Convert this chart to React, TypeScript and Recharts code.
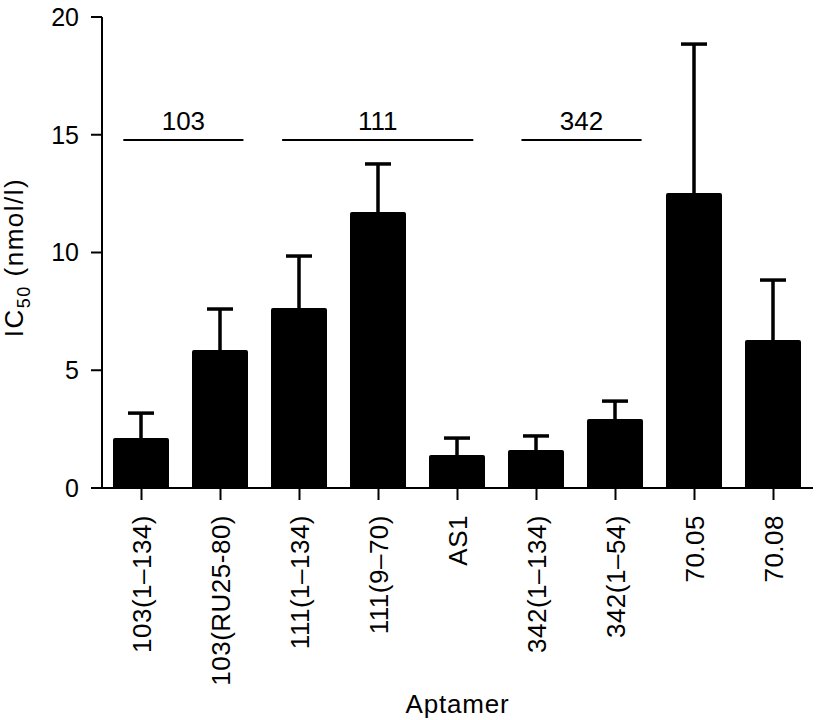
import React from 'react';
import {
  BarChart,
  Bar,
  XAxis,
  YAxis,
  ErrorBar,
  ReferenceLine,
} from 'recharts';

const aptamers = [
  '103(1–134)',
  '103(RU25-80)',
  '111(1–134)',
  '111(9–70)',
  'AS1',
  '342(1–134)',
  '342(1–54)',
  '70.05',
  '70.08',
];
const ic50 = [2.12, 5.86, 7.64, 11.72, 1.4, 1.61, 2.93, 12.53, 6.28];
const ic50Err = [1.06, 1.74, 2.21, 2.04, 0.72, 0.6, 0.76, 6.32, 2.55];
const yTicks = [0, 5, 10, 15, 20];

// bracket spans over groups, in category index units
const groupLabels = ['103', '111', '342'];
const groupStart = [-0.23, 1.78, 4.81];
const groupEnd = [1.29, 4.2, 6.33];
const groupLevel = 14.78;

// the lower half of each error bar sits inside the black bar
const data = aptamers.map((name, i) => ({
  idx: i,
  name,
  value: ic50[i],
  err: ic50Err[i],
}));

const FONT = 25;
const LABEL_FONT = 26;

function XTick(props: any) {
  const { x, y, payload } = props;
  return (
    <text
      transform={`translate(${x},${y + 13}) rotate(-90)`}
      textAnchor="end"
      dy="0.35em"
      fontSize={LABEL_FONT}
      letterSpacing={0.5}
      fill="#000"
    >
      {aptamers[payload.value]}
    </text>
  );
}

function YLabel(props: any) {
  const { viewBox } = props;
  const cy = viewBox.y + viewBox.height / 2 + 5;
  return (
    <text
      transform={`translate(23,${cy}) rotate(-90)`}
      textAnchor="middle"
      fontSize={LABEL_FONT}
      letterSpacing={1.5}
      fill="#000"
    >
      IC
      <tspan fontSize={18} dy={7}>50</tspan>
      <tspan dy={-7}> (nmol/l)</tspan>
    </text>
  );
}

function XLabel(props: any) {
  const { viewBox } = props;
  const cx = viewBox.x + viewBox.width / 2;
  return (
    <text x={cx} y={713} textAnchor="middle" fontSize={LABEL_FONT} letterSpacing={0.8} fill="#000">
      Aptamer
    </text>
  );
}

export default function App() {
  return (
    <div style={{ width: 816, height: 720, fontFamily: '"Liberation Sans", Arial, sans-serif' }}>
      <style>{'body{margin:0}'}</style>
      <BarChart
        width={816}
        height={720}
        data={data}
        margin={{ top: 17, right: 3, bottom: 0, left: 0 }}
      >
        <XAxis
          dataKey="idx"
          type="number"
          domain={[-0.5, 8.5]}
          ticks={[0, 1, 2, 3, 4, 5, 6, 7, 8]}
          height={232}
          tickSize={12}
          axisLine={{ stroke: '#000', strokeWidth: 2 }}
          tickLine={{ stroke: '#000', strokeWidth: 2 }}
          tick={<XTick />}
          interval={0}
          label={<XLabel />}
        />
        <YAxis
          domain={[0, 20]}
          ticks={yTicks}
          width={102}
          tickSize={11}
          tickMargin={12}
          axisLine={{ stroke: '#000', strokeWidth: 2 }}
          tickLine={{ stroke: '#000', strokeWidth: 2 }}
          tick={{ fontSize: FONT, fill: '#000' }}
          label={<YLabel />}
        />
        <Bar dataKey="value" fill="#000" barSize={56} radius={[2, 2, 0, 0]} isAnimationActive={false}>
          <ErrorBar dataKey="err" direction="y" width={13} stroke="#000" strokeWidth={3.5} />
        </Bar>
        {groupLabels.map((g, i) => (
          <ReferenceLine
            key={g}
            segment={[
              { x: groupStart[i], y: groupLevel },
              { x: groupEnd[i], y: groupLevel },
            ]}
            stroke="#000"
            strokeWidth={2}
            label={{ value: g, position: 'top', offset: 10, fontSize: LABEL_FONT, fill: '#000' }}
          />
        ))}
      </BarChart>
    </div>
  );
}
